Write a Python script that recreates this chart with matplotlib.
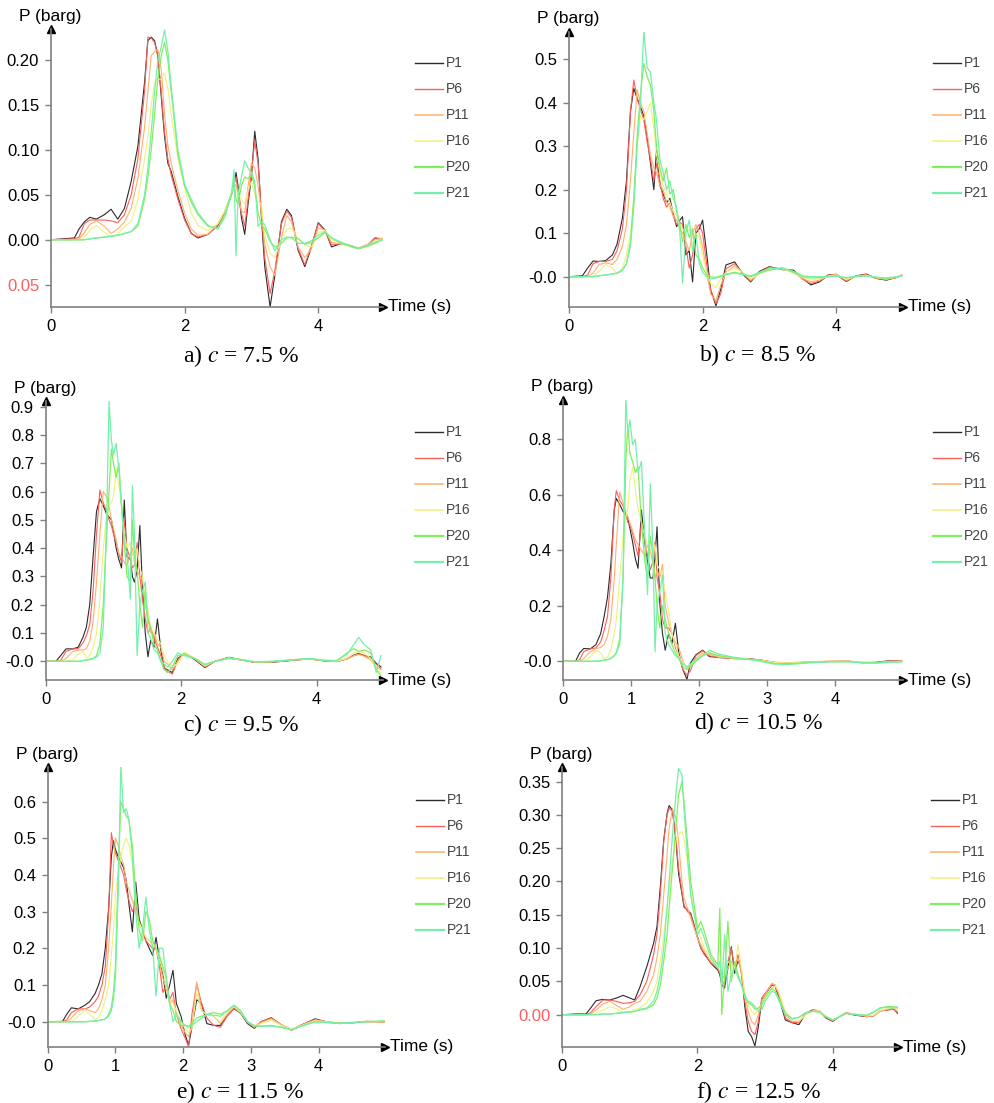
import matplotlib
matplotlib.use("Agg")
import matplotlib.pyplot as plt
from matplotlib.lines import Line2D

plt.rcParams['font.family'] = ['Liberation Sans', 'DejaVu Sans']
plt.rcParams['mathtext.fontset'] = 'stix'

# ---- data: time grid (s) and pressure (barg) per gauge ----
names = ["P1", "P6", "P11", "P16", "P20", "P21"]

# a) c = 7.5 %
a_t = [0, 0.35, 0.42, 0.5, 0.58, 0.68, 0.8, 0.9, 1.0, 1.1,
       1.2, 1.3, 1.4, 1.45, 1.5, 1.55, 1.6, 1.65, 1.7, 1.75,
       1.8, 1.9, 2.0, 2.1, 2.2, 2.35, 2.5, 2.6, 2.7, 2.74,
       2.77, 2.8, 2.85, 2.9, 2.95, 3.0, 3.05, 3.1, 3.15, 3.2,
       3.28, 3.35, 3.45, 3.53, 3.6, 3.7, 3.8, 3.9, 4.0, 4.1,
       4.2, 4.35, 4.5, 4.6, 4.75, 4.85, 4.97]
a_p1 = [0.0, 0.002, 0.012, 0.02, 0.025, 0.023, 0.028, 0.034, 0.023, 0.035,
        0.065, 0.104, 0.175, 0.222, 0.226, 0.222, 0.205, 0.16, 0.115, 0.085,
        0.076, 0.048, 0.024, 0.007, 0.002, 0.006, 0.016, 0.03, 0.05, 0.06,
        0.075, 0.06, 0.025, 0.006, 0.04, 0.07, 0.121, 0.09, 0.025, -0.03,
        -0.075, -0.04, 0.02, 0.034, 0.027, -0.012, -0.03, -0.008, 0.019, 0.011,
        -0.008, -0.004, -0.007, -0.01, -0.006, 0.002, 0.0]
a_p6 = [0.0, 0.001, 0.003, 0.018, 0.022, 0.022, 0.022, 0.021, 0.019, 0.028,
        0.05, 0.09, 0.165, 0.226, 0.225, 0.22, 0.205, 0.165, 0.12, 0.09,
        0.072, 0.045, 0.022, 0.007, 0.003, 0.006, 0.017, 0.03, 0.05, 0.062,
        0.07, 0.055, 0.03, 0.015, 0.045, 0.075, 0.11, 0.085, 0.03, -0.02,
        -0.06, -0.035, 0.018, 0.032, 0.025, -0.01, -0.028, -0.006, 0.018, 0.01,
        -0.006, -0.004, -0.007, -0.01, -0.005, 0.002, 0.001]
a_p11 = [0.0, 0.0, 0.001, 0.008, 0.017, 0.021, 0.015, 0.007, 0.012, 0.02,
         0.035, 0.068, 0.125, 0.165, 0.205, 0.21, 0.212, 0.19, 0.14, 0.105,
         0.085, 0.055, 0.03, 0.012, 0.005, 0.006, 0.018, 0.032, 0.05, 0.058,
         0.062, 0.05, 0.032, 0.03, 0.06, 0.085, 0.08, 0.06, 0.03, -0.005,
         -0.03, -0.04, 0.002, 0.027, 0.02, -0.008, -0.02, -0.01, 0.013, 0.011,
         -0.003, -0.005, -0.007, -0.009, -0.005, 0.0, 0.002]
a_p16 = [0.0, 0.0, 0.0, 0.003, 0.01, 0.016, 0.008, 0.003, 0.006, 0.015,
         0.02, 0.045, 0.09, 0.115, 0.15, 0.175, 0.18, 0.178, 0.186, 0.168,
         0.14, 0.09, 0.058, 0.03, 0.016, 0.01, 0.018, 0.032, 0.052, 0.058,
         0.055, 0.05, 0.045, 0.04, 0.055, 0.065, 0.05, 0.042, 0.04, 0.005,
         -0.015, -0.02, 0.0, 0.012, 0.013, 0.002, -0.006, -0.008, 0.008, 0.01,
         0.0, -0.004, -0.008, -0.01, -0.006, -0.002, 0.001]
a_p20 = [0.0, 0.0, 0.0, 0.0, 0.001, 0.002, 0.003, 0.004, 0.005, 0.007,
         0.009, 0.015, 0.045, 0.07, 0.1, 0.14, 0.18, 0.205, 0.22, 0.2,
         0.165, 0.095, 0.06, 0.042, 0.028, 0.015, 0.013, 0.028, 0.052, 0.065,
         0.045, 0.04, 0.06, 0.07, 0.068, 0.072, 0.06, 0.03, 0.016, 0.012,
         -0.002, -0.008, -0.004, 0.002, 0.003, 0.001, -0.005, -0.003, 0.002, 0.008,
         0.002, -0.004, -0.008, -0.01, -0.007, -0.004, 0.0]
a_p21 = [0.0, 0.0, 0.0, 0.0, 0.001, 0.002, 0.003, 0.004, 0.005, 0.007,
         0.009, 0.018, 0.05, 0.08, 0.12, 0.165, 0.2, 0.215, 0.234, 0.21,
         0.17, 0.1, 0.062, 0.045, 0.03, 0.016, 0.012, 0.025, 0.05, 0.078,
         -0.018, 0.05, 0.07, 0.088, 0.08, 0.075, 0.065, 0.015, 0.02, 0.017,
         0.0, -0.012, 0.0, 0.003, 0.002, -0.004, -0.004, -0.001, 0.005, 0.009,
         0.002, -0.003, -0.007, -0.01, -0.006, -0.003, 0.0]

# b) c = 8.5 %
b_t = [0, 0.2, 0.28, 0.36, 0.45, 0.55, 0.65, 0.72, 0.8, 0.86,
       0.92, 0.97, 1.02, 1.07, 1.12, 1.17, 1.22, 1.27, 1.31, 1.36,
       1.41, 1.46, 1.51, 1.56, 1.61, 1.66, 1.7, 1.75, 1.8, 1.85,
       1.9, 1.95, 2.0, 2.06, 2.12, 2.2, 2.27, 2.35, 2.48, 2.6,
       2.72, 2.85, 3.0, 3.2, 3.36, 3.5, 3.62, 3.75, 3.88, 4.0,
       4.15, 4.3, 4.45, 4.6, 4.75, 4.9, 4.98]
b_p1 = [0.0, 0.002, 0.02, 0.036, 0.035, 0.037, 0.05, 0.075, 0.135, 0.22,
        0.38, 0.433, 0.41, 0.39, 0.37, 0.32, 0.26, 0.2, 0.29, 0.21,
        0.19, 0.17, 0.18, 0.145, 0.115, 0.13, 0.138, 0.05, 0.06, -0.012,
        0.1, 0.11, 0.13, 0.055, -0.03, -0.067, -0.03, 0.027, 0.034, 0.006,
        -0.012, 0.012, 0.023, 0.016, 0.015, -0.004, -0.019, -0.012, 0.004, 0.005,
        -0.011, 0.002, 0.006, -0.004, -0.008, -0.002, 0.003]
b_p6 = [0.0, 0.0, 0.004, 0.03, 0.035, 0.035, 0.04, 0.06, 0.11, 0.2,
        0.38, 0.452, 0.41, 0.385, 0.36, 0.31, 0.27, 0.22, 0.26, 0.22,
        0.18, 0.16, 0.17, 0.14, 0.12, 0.125, 0.12, 0.07, 0.02, 0.05,
        0.11, 0.12, 0.1, 0.03, -0.03, -0.062, -0.04, 0.018, 0.03, 0.008,
        -0.01, 0.01, 0.022, 0.017, 0.012, -0.006, -0.016, -0.01, 0.003, 0.006,
        -0.01, 0.002, 0.005, -0.004, -0.007, -0.002, 0.004]
b_p11 = [0.0, 0.0, 0.0, 0.008, 0.028, 0.032, 0.028, 0.04, 0.07, 0.12,
         0.22, 0.33, 0.43, 0.4, 0.38, 0.33, 0.28, 0.25, 0.24, 0.21,
         0.2, 0.17, 0.16, 0.14, 0.13, 0.11, 0.1, 0.08, 0.06, 0.1,
         0.12, 0.1, 0.07, 0.01, -0.04, -0.055, -0.02, 0.01, 0.025, 0.01,
         -0.008, 0.008, 0.02, 0.018, 0.01, -0.004, -0.012, -0.008, 0.002, 0.005,
         -0.008, 0.001, 0.004, -0.003, -0.006, -0.002, 0.003]
b_p16 = [0.0, 0.0, 0.0, 0.002, 0.012, 0.028, 0.02, 0.006, 0.02, 0.05,
         0.1, 0.18, 0.3, 0.37, 0.36, 0.38, 0.4, 0.34, 0.28, 0.24,
         0.21, 0.19, 0.17, 0.15, 0.14, 0.12, 0.11, 0.1, 0.11, 0.09,
         0.1, 0.09, 0.05, 0.01, -0.015, -0.025, -0.005, 0.01, 0.02, 0.01,
         -0.005, 0.006, 0.018, 0.018, 0.008, -0.002, -0.008, -0.005, 0.001, 0.004,
         -0.006, 0.0, 0.003, -0.002, -0.005, -0.001, 0.003]
b_p20 = [0.0, 0.0, 0.0, 0.0, 0.002, 0.004, 0.006, 0.008, 0.015, 0.03,
         0.08, 0.18, 0.32, 0.42, 0.49, 0.46, 0.44, 0.38, 0.3, 0.25,
         0.22, 0.25, 0.19, 0.2, 0.15, 0.12, 0.08, 0.12, 0.09, 0.11,
         0.05, 0.04, 0.02, 0.005, 0.0, -0.002, 0.002, 0.006, 0.01, 0.006,
         0.0, 0.008, 0.015, 0.02, 0.01, 0.0, -0.003, -0.002, 0.0, 0.002,
         -0.003, 0.0, 0.002, -0.002, -0.004, -0.001, 0.002]
b_p21 = [0.0, 0.0, 0.0, 0.0, 0.002, 0.004, 0.006, 0.008, 0.015, 0.03,
         0.07, 0.16, 0.3, 0.4, 0.565, 0.48, 0.47, 0.4, 0.36, 0.27,
         0.24, 0.2, 0.22, 0.18, 0.16, 0.1, -0.015, 0.1, 0.13, 0.06,
         0.1, 0.03, 0.01, 0.0, -0.005, -0.003, 0.0, 0.005, 0.008, 0.005,
         0.002, 0.01, 0.018, 0.02, 0.012, 0.002, 0.0, 0.0, 0.0, 0.001,
         -0.002, 0.001, 0.002, -0.001, -0.003, 0.0, 0.002]

# c) c = 9.5 %
c_t = [0, 0.15, 0.22, 0.3, 0.4, 0.48, 0.55, 0.6, 0.65, 0.7,
       0.75, 0.8, 0.85, 0.9, 0.935, 0.97, 1.0, 1.04, 1.08, 1.12,
       1.16, 1.2, 1.25, 1.28, 1.31, 1.35, 1.39, 1.43, 1.47, 1.51,
       1.55, 1.6, 1.65, 1.7, 1.75, 1.8, 1.87, 1.95, 2.05, 2.2,
       2.35, 2.5, 2.7, 2.9, 3.1, 3.3, 3.5, 3.7, 3.9, 4.1,
       4.3, 4.45, 4.55, 4.62, 4.7, 4.8, 4.88, 4.95]
c_p1 = [0.0, 0.0, 0.02, 0.044, 0.044, 0.05, 0.085, 0.12, 0.2, 0.37,
        0.53, 0.575, 0.55, 0.52, 0.51, 0.5, 0.46, 0.4, 0.36, 0.33,
        0.57, 0.37, 0.36, 0.3, 0.28, 0.32, 0.48, 0.25, 0.1, 0.016,
        0.075, 0.05, 0.15, 0.04, -0.025, -0.03, -0.04, 0.01, 0.028, 0.006,
        -0.022, 0.0, 0.014, 0.005, -0.004, -0.004, 0.0, 0.005, 0.009, 0.002,
        -0.001, 0.009, 0.022, 0.028, 0.02, 0.015, -0.007, -0.02]
c_p6 = [0.0, 0.0, 0.003, 0.035, 0.044, 0.045, 0.065, 0.09, 0.13, 0.25,
        0.45, 0.605, 0.56, 0.53, 0.5, 0.48, 0.45, 0.42, 0.38, 0.35,
        0.5, 0.4, 0.36, 0.33, 0.34, 0.42, 0.3, 0.22, 0.15, 0.1,
        0.12, 0.08, 0.05, 0.02, -0.02, -0.035, -0.045, 0.005, 0.03, 0.008,
        -0.02, 0.0, 0.013, 0.004, -0.004, -0.003, 0.001, 0.005, 0.008, 0.002,
        0.0, 0.01, 0.02, 0.025, 0.022, 0.01, -0.01, -0.025]
c_p11 = [0.0, 0.0, 0.0, 0.01, 0.035, 0.04, 0.04, 0.045, 0.07, 0.14,
         0.28, 0.45, 0.6, 0.58, 0.55, 0.5, 0.47, 0.43, 0.38, 0.37,
         0.35, 0.34, 0.38, 0.4, 0.35, 0.32, 0.3, 0.29, 0.2, 0.15,
         0.1, 0.1, 0.06, 0.05, 0.0, -0.01, -0.03, 0.0, 0.03, 0.01,
         -0.018, 0.0, 0.012, 0.005, -0.003, -0.002, 0.002, 0.006, 0.008, 0.003,
         0.0, 0.008, 0.02, 0.025, 0.018, 0.005, -0.02, -0.03]
c_p16 = [0.0, 0.0, 0.0, 0.0, 0.005, 0.025, 0.035, 0.012, 0.02, 0.05,
         0.1, 0.22, 0.4, 0.52, 0.55, 0.56, 0.58, 0.68, 0.62, 0.55,
         0.45, 0.4, 0.42, 0.38, 0.36, 0.4, 0.33, 0.3, 0.22, 0.18,
         0.12, 0.1, 0.08, 0.06, 0.02, 0.0, -0.02, -0.01, 0.03, 0.012,
         -0.015, 0.0, 0.012, 0.006, -0.003, -0.002, 0.002, 0.006, 0.009, 0.003,
         0.0, 0.012, 0.03, 0.035, 0.03, 0.01, -0.03, -0.04]
c_p20 = [0.0, 0.0, 0.0, 0.0, 0.0, 0.0, 0.002, 0.004, 0.006, 0.01,
         0.02, 0.06, 0.2, 0.45, 0.6, 0.75, 0.7, 0.65, 0.7, 0.55,
         0.42, 0.3, 0.28, 0.5, 0.38, 0.32, 0.2, 0.12, 0.25, 0.15,
         0.12, 0.06, 0.04, 0.0, -0.03, -0.04, -0.02, 0.02, 0.025, 0.01,
         -0.012, 0.0, 0.01, 0.005, -0.002, -0.002, 0.002, 0.006, 0.01, 0.003,
         0.002, 0.03, 0.045, 0.035, 0.04, 0.03, -0.03, -0.05]
c_p21 = [0.0, 0.0, 0.0, 0.0, 0.0, 0.0, 0.003, 0.005, 0.008, 0.01,
         0.015, 0.03, 0.12, 0.5, 0.92, 0.78, 0.73, 0.77, 0.68, 0.55,
         0.42, 0.38, 0.22, 0.62, 0.45, 0.02, 0.2, 0.25, 0.28, 0.1,
         0.08, 0.04, 0.03, 0.0, -0.01, -0.02, 0.0, 0.03, 0.02, 0.01,
         -0.01, 0.0, 0.01, 0.006, -0.002, 0.0, 0.003, 0.007, 0.01, 0.004,
         0.003, 0.025, 0.06, 0.085, 0.06, 0.04, -0.04, 0.02]

# d) c = 10.5 %
d_t = [0, 0.18, 0.24, 0.3, 0.4, 0.48, 0.55, 0.6, 0.65, 0.7,
       0.75, 0.78, 0.83, 0.88, 0.92, 0.95, 0.98, 1.02, 1.06, 1.1,
       1.15, 1.2, 1.24, 1.28, 1.32, 1.35, 1.38, 1.42, 1.46, 1.5,
       1.55, 1.6, 1.65, 1.7, 1.76, 1.82, 1.87, 1.95, 2.05, 2.15,
       2.3, 2.5, 2.7, 2.9, 3.1, 3.3, 3.5, 3.7, 3.9, 4.2,
       4.4, 4.6, 4.8, 4.98]
d_p1 = [0.0, 0.0, 0.03, 0.046, 0.045, 0.06, 0.1, 0.16, 0.23, 0.35,
        0.545, 0.587, 0.565, 0.54, 0.53, 0.515, 0.48, 0.43, 0.37, 0.335,
        0.545, 0.425, 0.36, 0.3, 0.3, 0.377, 0.485, 0.21, 0.1, 0.04,
        0.1, 0.065, 0.137, 0.03, -0.03, -0.065, -0.007, 0.023, 0.04, 0.017,
        0.014, 0.01, 0.01, 0.005, -0.004, -0.007, -0.005, -0.002, -0.001, 0.0,
        -0.005, -0.004, 0.002, 0.001]
d_p6 = [0.0, 0.0, 0.005, 0.035, 0.045, 0.048, 0.07, 0.11, 0.16, 0.3,
        0.55, 0.615, 0.58, 0.56, 0.53, 0.5, 0.49, 0.46, 0.42, 0.38,
        0.5, 0.44, 0.38, 0.33, 0.36, 0.43, 0.3, 0.25, 0.15, 0.12,
        0.12, 0.1, 0.05, 0.02, -0.03, -0.05, -0.035, 0.02, 0.038, 0.02,
        0.013, 0.01, 0.009, 0.004, -0.004, -0.006, -0.004, -0.002, 0.0, 0.0,
        -0.004, -0.004, 0.001, 0.0]
d_p11 = [0.0, 0.0, 0.0, 0.01, 0.035, 0.045, 0.05, 0.06, 0.09, 0.15,
         0.3, 0.42, 0.61, 0.57, 0.54, 0.52, 0.5, 0.47, 0.44, 0.42,
         0.4, 0.38, 0.42, 0.4, 0.35, 0.3, 0.33, 0.3, 0.35, 0.2,
         0.14, 0.1, 0.07, 0.05, 0.0, -0.025, -0.02, 0.01, 0.03, 0.025,
         0.015, 0.01, 0.008, 0.004, -0.003, -0.005, -0.003, -0.001, 0.0, 0.001,
         -0.004, -0.005, 0.0, 0.001]
d_p16 = [0.0, 0.0, 0.0, 0.0, 0.015, 0.04, 0.03, 0.008, 0.015, 0.04,
         0.1, 0.15, 0.3, 0.45, 0.52, 0.55, 0.65, 0.7, 0.62, 0.55,
         0.5, 0.45, 0.42, 0.4, 0.38, 0.42, 0.35, 0.33, 0.3, 0.25,
         0.18, 0.1, 0.06, 0.02, -0.01, -0.02, -0.015, 0.005, 0.025, 0.03,
         0.018, 0.012, 0.008, 0.004, -0.004, -0.006, -0.004, -0.002, 0.0, 0.0,
         -0.003, -0.006, -0.002, 0.0]
d_p20 = [0.0, 0.0, 0.0, 0.0, 0.0, 0.0, 0.002, 0.004, 0.006, 0.01,
         0.02, 0.03, 0.08, 0.3, 0.72, 0.85, 0.75, 0.72, 0.68, 0.7,
         0.5, 0.36, 0.3, 0.45, 0.38, 0.3, 0.2, 0.12, 0.2, 0.15,
         0.1, 0.06, 0.03, 0.01, -0.02, -0.03, -0.02, 0.0, 0.02, 0.03,
         0.02, 0.012, 0.008, 0.002, -0.008, -0.01, -0.006, -0.003, -0.001, -0.001,
         -0.005, -0.006, -0.003, -0.001]
d_p21 = [0.0, 0.0, 0.0, 0.0, 0.0, 0.0, 0.002, 0.004, 0.006, 0.01,
         0.02, 0.03, 0.06, 0.3, 0.95, 0.82, 0.87, 0.78, 0.8, 0.68,
         0.72, 0.45, 0.24, 0.64, 0.4, 0.035, 0.2, 0.25, 0.31, 0.1,
         0.06, 0.04, 0.02, 0.01, -0.01, -0.02, -0.01, 0.005, 0.02, 0.04,
         0.025, 0.015, 0.008, 0.0, -0.01, -0.012, -0.008, -0.004, -0.002, -0.002,
         -0.006, -0.006, -0.004, -0.002]

# e) c = 11.5 %
e_t = [0, 0.22, 0.28, 0.35, 0.45, 0.55, 0.62, 0.7, 0.75, 0.8,
       0.85, 0.9, 0.94, 0.97, 1.0, 1.04, 1.08, 1.12, 1.16, 1.2,
       1.25, 1.3, 1.35, 1.4, 1.45, 1.5, 1.55, 1.6, 1.65, 1.7,
       1.75, 1.8, 1.85, 1.9, 1.97, 2.03, 2.08, 2.13, 2.2, 2.27,
       2.35, 2.45, 2.55, 2.65, 2.75, 2.85, 2.95, 3.05, 3.15, 3.3,
       3.45, 3.6, 3.75, 3.95, 4.1, 4.3, 4.5, 4.7, 4.98]
e_p1 = [0.0, 0.001, 0.02, 0.038, 0.035, 0.045, 0.055, 0.077, 0.1, 0.13,
        0.2, 0.31, 0.45, 0.493, 0.47, 0.45, 0.435, 0.42, 0.385, 0.32,
        0.245, 0.38, 0.28, 0.25, 0.22, 0.2, 0.18, 0.23, 0.17, 0.13,
        0.064, 0.1, 0.14, 0.05, 0.014, -0.036, -0.064, -0.014, 0.06, 0.05,
        -0.005, -0.01, -0.01, 0.018, 0.036, 0.023, -0.005, -0.018, 0.0, 0.011,
        -0.009, -0.023, -0.009, 0.008, 0.0, -0.005, -0.003, 0.001, 0.0]
e_p6 = [0.0, 0.0, 0.005, 0.025, 0.035, 0.035, 0.04, 0.055, 0.07, 0.1,
        0.15, 0.3, 0.515, 0.48, 0.46, 0.44, 0.42, 0.4, 0.36, 0.33,
        0.3, 0.32, 0.27, 0.25, 0.22, 0.21, 0.2, 0.2, 0.15, 0.08,
        0.1, 0.06, 0.08, 0.02, -0.02, -0.045, -0.068, 0.02, 0.104, 0.05,
        0.01, -0.01, -0.015, 0.015, 0.035, 0.025, -0.003, -0.015, 0.0, 0.01,
        -0.008, -0.022, -0.008, 0.006, 0.001, -0.004, -0.003, 0.0, -0.001]
e_p11 = [0.0, 0.0, 0.0, 0.01, 0.03, 0.035, 0.03, 0.025, 0.035, 0.06,
         0.1, 0.2, 0.32, 0.42, 0.5, 0.48, 0.45, 0.43, 0.38, 0.36,
         0.33, 0.3, 0.27, 0.25, 0.23, 0.22, 0.21, 0.2, 0.16, 0.12,
         0.09, 0.05, 0.06, 0.02, -0.01, -0.03, -0.04, -0.01, 0.109, 0.03,
         0.02, 0.015, -0.005, 0.02, 0.04, 0.025, 0.0, -0.015, -0.002, 0.008,
         -0.008, -0.02, -0.01, 0.005, 0.0, -0.004, -0.003, 0.0, 0.0]
e_p16 = [0.0, 0.0, 0.0, 0.0, 0.015, 0.033, 0.02, 0.006, 0.012, 0.03,
         0.06, 0.1, 0.18, 0.25, 0.35, 0.4, 0.45, 0.48, 0.5, 0.48,
         0.43, 0.3, 0.27, 0.25, 0.23, 0.22, 0.21, 0.2, 0.17, 0.14,
         0.1, 0.06, 0.05, 0.03, 0.0, -0.02, -0.03, -0.02, 0.08, 0.03,
         0.02, 0.015, 0.0, 0.025, 0.042, 0.025, 0.0, -0.012, -0.005, 0.004,
         -0.01, -0.02, -0.01, 0.003, 0.0, -0.004, -0.003, 0.0, 0.0]
e_p20 = [0.0, 0.0, 0.0, 0.0, 0.0, 0.0, 0.001, 0.002, 0.003, 0.005,
         0.008, 0.02, 0.04, 0.08, 0.15, 0.4, 0.6, 0.58, 0.56, 0.55,
         0.48, 0.35, 0.25, 0.22, 0.3, 0.28, 0.22, 0.2, 0.18, 0.15,
         0.12, 0.05, 0.03, 0.0, -0.01, -0.01, -0.012, -0.005, 0.01, 0.015,
         0.02, 0.025, 0.02, 0.03, 0.045, 0.03, 0.0, -0.012, -0.012, -0.01,
         -0.015, -0.022, -0.012, 0.0, -0.002, -0.004, -0.002, 0.0, 0.002]
e_p21 = [0.0, 0.0, 0.0, 0.0, 0.0, 0.0, 0.001, 0.002, 0.003, 0.005,
         0.008, 0.015, 0.03, 0.06, 0.12, 0.35, 0.7, 0.57, 0.58, 0.55,
         0.45, 0.3, 0.2, 0.25, 0.34, 0.25, 0.2, 0.07, 0.2, 0.2,
         0.12, 0.05, 0.0, 0.02, 0.0, -0.01, -0.015, -0.01, 0.0, 0.01,
         0.02, 0.018, 0.015, 0.03, 0.045, 0.028, 0.0, -0.01, -0.012, -0.012,
         -0.015, -0.022, -0.012, 0.0, -0.002, -0.004, -0.002, 0.0, 0.002]

# f) c = 12.5 %
f_t = [0, 0.2, 0.35, 0.42, 0.5, 0.6, 0.7, 0.8, 0.9, 1.0,
       1.07, 1.15, 1.25, 1.35, 1.4, 1.45, 1.5, 1.55, 1.58, 1.63,
       1.68, 1.72, 1.77, 1.8, 1.85, 1.9, 2.0, 2.05, 2.1, 2.2,
       2.3, 2.33, 2.36, 2.4, 2.45, 2.5, 2.55, 2.6, 2.65, 2.7,
       2.75, 2.8, 2.85, 2.9, 2.95, 3.0, 3.1, 3.15, 3.2, 3.3,
       3.4, 3.5, 3.6, 3.7, 3.8, 3.9, 4.0, 4.1, 4.2, 4.35,
       4.5, 4.6, 4.7, 4.8, 4.9, 4.96]
f_p1 = [0.0, 0.001, 0.001, 0.01, 0.021, 0.023, 0.022, 0.025, 0.029, 0.025,
        0.022, 0.042, 0.072, 0.107, 0.132, 0.192, 0.262, 0.302, 0.314, 0.307,
        0.262, 0.212, 0.182, 0.162, 0.157, 0.152, 0.117, 0.1, 0.092, 0.077,
        0.067, 0.06, 0.045, 0.04, 0.07, 0.102, 0.062, 0.082, 0.067, 0.012,
        -0.025, -0.033, -0.047, -0.018, 0.022, 0.03, 0.045, 0.042, 0.027, -0.008,
        -0.012, -0.015, 0.002, 0.007, 0.006, -0.005, -0.01, -0.003, 0.002, -0.001,
        -0.003, -0.002, 0.006, 0.007, 0.009, 0.002]
f_p6 = [0.0, 0.0, 0.0, 0.003, 0.012, 0.022, 0.022, 0.02, 0.017, 0.018,
        0.02, 0.03, 0.05, 0.09, 0.12, 0.18, 0.26, 0.3, 0.31, 0.305,
        0.265, 0.22, 0.185, 0.165, 0.155, 0.15, 0.115, 0.1, 0.09, 0.078,
        0.07, 0.062, 0.05, 0.045, 0.08, 0.1, 0.07, 0.09, 0.06, 0.02,
        -0.01, -0.025, -0.03, -0.01, 0.025, 0.032, 0.046, 0.042, 0.03, -0.005,
        -0.012, -0.012, 0.002, 0.006, 0.006, -0.004, -0.01, -0.003, 0.003, 0.0,
        -0.003, -0.002, 0.005, 0.007, 0.008, 0.003]
f_p11 = [0.0, 0.0, 0.0, 0.001, 0.007, 0.016, 0.02, 0.014, 0.008, 0.012,
         0.017, 0.02, 0.035, 0.06, 0.085, 0.12, 0.18, 0.24, 0.28, 0.31,
         0.295, 0.26, 0.2, 0.175, 0.16, 0.145, 0.115, 0.105, 0.095, 0.08,
         0.07, 0.065, 0.06, 0.055, 0.07, 0.08, 0.07, 0.085, 0.065, 0.03,
         0.005, -0.01, -0.015, 0.0, 0.02, 0.03, 0.047, 0.045, 0.033, 0.0,
         -0.01, -0.01, 0.0, 0.006, 0.006, -0.003, -0.008, -0.004, 0.002, 0.0,
         -0.002, -0.002, 0.005, 0.008, 0.01, 0.005]
f_p16 = [0.0, 0.0, 0.0, 0.0, 0.002, 0.007, 0.012, 0.009, 0.004, 0.004,
         0.008, 0.01, 0.018, 0.035, 0.05, 0.08, 0.12, 0.16, 0.19, 0.23,
         0.26, 0.272, 0.275, 0.265, 0.23, 0.18, 0.13, 0.115, 0.1, 0.085,
         0.075, 0.07, 0.065, 0.06, 0.08, 0.075, 0.07, 0.105, 0.07, 0.03,
         0.015, 0.005, 0.0, 0.008, 0.015, 0.025, 0.04, 0.043, 0.035, 0.005,
         -0.007, -0.01, 0.0, 0.005, 0.006, -0.002, -0.008, -0.004, 0.002, 0.001,
         -0.002, -0.001, 0.006, 0.009, 0.011, 0.007]
f_p20 = [0.0, 0.0, 0.0, 0.0, 0.0, 0.001, 0.001, 0.002, 0.003, 0.004,
         0.005, 0.007, 0.009, 0.015, 0.025, 0.045, 0.08, 0.12, 0.16, 0.22,
         0.28, 0.33, 0.35, 0.32, 0.26, 0.2, 0.13, 0.14, 0.125, 0.09,
         0.075, 0.16, 0.0, 0.06, 0.14, 0.05, 0.08, 0.06, 0.045, 0.03,
         0.018, 0.015, 0.008, 0.01, 0.015, 0.025, 0.04, 0.035, 0.025, 0.002,
         -0.006, -0.004, 0.003, 0.005, 0.004, -0.003, -0.008, -0.003, 0.002, 0.0,
         -0.001, 0.003, 0.01, 0.012, 0.012, 0.01]
f_p21 = [0.0, 0.0, 0.0, 0.0, 0.0, 0.001, 0.001, 0.002, 0.003, 0.004,
         0.005, 0.008, 0.01, 0.02, 0.035, 0.06, 0.1, 0.16, 0.2, 0.27,
         0.33, 0.37, 0.36, 0.31, 0.24, 0.18, 0.12, 0.13, 0.115, 0.085,
         0.07, 0.08, 0.04, 0.12, 0.035, 0.06, 0.07, 0.055, 0.045, 0.025,
         0.02, 0.018, 0.012, 0.005, 0.008, 0.02, 0.035, 0.033, 0.022, 0.0,
         -0.006, -0.004, 0.003, 0.005, 0.004, -0.003, -0.008, -0.003, 0.002, 0.0,
         -0.001, 0.004, 0.01, 0.011, 0.01, 0.012]

concs = ["7.5", "8.5", "9.5", "10.5", "11.5", "12.5"]
letters = ["a", "b", "c", "d", "e", "f"]
times = [a_t, b_t, c_t, d_t, e_t, f_t]
series = [[a_p1, a_p6, a_p11, a_p16, a_p20, a_p21],
          [b_p1, b_p6, b_p11, b_p16, b_p20, b_p21],
          [c_p1, c_p6, c_p11, c_p16, c_p20, c_p21],
          [d_p1, d_p6, d_p11, d_p16, d_p20, d_p21],
          [e_p1, e_p6, e_p11, e_p16, e_p20, e_p21],
          [f_p1, f_p6, f_p11, f_p16, f_p20, f_p21]]

yticks = [[-0.05, 0, 0.05, 0.1, 0.15, 0.2],
          [0, 0.1, 0.2, 0.3, 0.4, 0.5],
          [0, 0.1, 0.2, 0.3, 0.4, 0.5, 0.6, 0.7, 0.8, 0.9],
          [0, 0.2, 0.4, 0.6, 0.8],
          [0, 0.1, 0.2, 0.3, 0.4, 0.5, 0.6],
          [0, 0.05, 0.1, 0.15, 0.2, 0.25, 0.3, 0.35]]
ylabels = [["0.05", "0.00", "0.05", "0.10", "0.15", "0.20"],
           ["-0.0", "0.1", "0.2", "0.3", "0.4", "0.5"],
           ["-0.0", "0.1", "0.2", "0.3", "0.4", "0.5", "0.6", "0.7", "0.8", "0.9"],
           ["-0.0", "0.2", "0.4", "0.6", "0.8"],
           ["-0.0", "0.1", "0.2", "0.3", "0.4", "0.5", "0.6"],
           ["0.00", "0.05", "0.10", "0.15", "0.20", "0.25", "0.30", "0.35"]]
red_label = [0, None, None, None, None, 0]
xticks = [[0, 2, 4], [0, 2, 4], [0, 2, 4], [0, 1, 2, 3, 4], [0, 1, 2, 3, 4], [0, 2, 4]]

# ---- layout (pixels): axes box left, top, right, bottom; limits ----
boxes = [(51, 29, 383, 307), (569, 32, 903, 307),
         (45.7, 401, 383, 680), (563.3, 400, 903, 680),
         (47.7, 767, 385, 1046.7), (562.3, 767.3, 898, 1047.3)]
xmax = [4.97, 5.0, 4.98, 5.0, 4.98, 4.966]
ylims = [(-0.075, 0.235), (-0.0697, 0.5625), (-0.066, 0.92),
         (-0.0674, 0.9416), (-0.068, 0.694), (-0.049, 0.3715)]
legend_at = [(415, 63), (933, 63), (415, 432), (933, 432), (416, 800), (931, 800)]
caption_at = [(241, 356), (758, 355), (241, 725), (759, 723), (240, 1092), (759, 1092)]

colors = ["#2a2a2a", "#ff5c5c", "#ffb06e", "#eef27c", "#82ee5c", "#74f0aa"]
lws = [0.8, 0.8, 0.8, 0.8, 0.9, 0.9]
leg_lws = [1.0, 1.0, 1.1, 1.1, 1.6, 1.6]
axis_gray = "#808080"

W, H = 994, 1103
fig = plt.figure(figsize=(W / 100, H / 100), dpi=100)

for k in range(6):
    l, t, r, b = boxes[k]
    ax = fig.add_axes([l / W, 1 - b / H, (r - l) / W, (b - t) / H])
    for s, col, lw in zip(series[k], colors, lws):
        ax.plot(times[k], s, color=col, lw=lw)
    ax.set_xlim(0, xmax[k])
    ax.set_ylim(*ylims[k])
    for side in ["top", "right"]:
        ax.spines[side].set_visible(False)
    for side in ["left", "bottom"]:
        ax.spines[side].set_color(axis_gray)
        ax.spines[side].set_linewidth(1.2)
    ax.set_yticks(yticks[k])
    ax.set_yticklabels(ylabels[k])
    ax.set_xticks(xticks[k])
    ax.set_xticklabels([str(v) for v in xticks[k]])
    ax.tick_params(direction="out", length=4.5, width=1, color=axis_gray,
                   labelsize=12, pad=4)
    if red_label[k] is not None:
        ax.get_yticklabels()[red_label[k]].set_color("#ff5c5c")
    # axis arrows
    ax.plot(0, 1, marker="^", ms=6, color="k", transform=ax.transAxes, clip_on=False)
    ax.plot(1, 0, marker=">", ms=6, color="k", transform=ax.transAxes, clip_on=False)

    fig.text((l - 32) / W, 1 - (t - 13) / H, "P (barg)", fontsize=12.5,
             ha="left", va="center")
    fig.text((r + 5) / W, 1 - b / H, "Time (s)", fontsize=12.5,
             ha="left", va="center")

    lx, ly = legend_at[k]
    for i, (nm, col, llw) in enumerate(zip(names, colors, leg_lws)):
        yy = 1 - (ly + 26 * i) / H
        fig.add_artist(Line2D([lx / W, (lx + 28) / W], [yy, yy], color=col, lw=llw))
        fig.text((lx + 31) / W, yy, nm, fontsize=10, color="#444444",
                 ha="left", va="center")

    cx, cy = caption_at[k]
    fig.text(cx / W, 1 - cy / H, f"{letters[k]}) $c$ = {concs[k]} %",
             fontsize=17, family=["Liberation Serif", "DejaVu Serif"],
             ha="center", va="center")

fig.savefig("out.png", dpi=100)
